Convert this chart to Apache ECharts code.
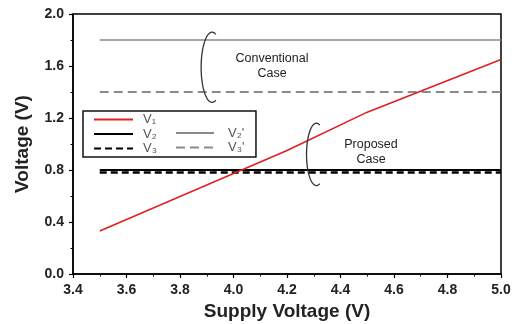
<!DOCTYPE html>
<html><head><meta charset="utf-8">
<script src="https://cdn.jsdelivr.net/npm/echarts@6/dist/echarts.min.js"></script>
<style>html,body{margin:0;padding:0;background:#fff}#c{width:518px;height:324px}</style>
</head><body><div id="c"></div>
<script>
// ---- data ----
var xTicks = [3.4, 5.0, 0.2];          // min, max, interval
var yTicks = [0.0, 2.0, 0.4];
var v1X = [3.5, 4.2, 4.5, 5.0];
var v1  = [0.33, 0.95, 1.245, 1.65];
var v2X = [3.5, 5.0];  var v2  = [0.80, 0.80];
var v3X = [3.5, 5.0];  var v3  = [0.78, 0.78];
var v2pX = [3.5, 5.0]; var v2p = [1.80, 1.80];
var v3pX = [3.5, 5.0]; var v3p = [1.40, 1.40];
var seriesNames = ['V\u2081', 'V\u2082', 'V\u2083', 'V\u2082\'', 'V\u2083\''];
var xName = 'Supply Voltage (V)';
var yName = 'Voltage (V)';
// annotations (data coordinates): bracket centre / half sizes, text centre
var annoConv = {text: 'Conventional\nCase', bx: 3.92, by: 1.59, rx: 0.041, ry: 0.27, tx: 4.144, ty: 1.6};
var annoProp = {text: 'Proposed\nCase', bx: 4.31, by: 0.92, rx: 0.037, ry: 0.24, tx: 4.514, ty: 0.94};

function pairs(xs, ys){ return xs.map(function(x,i){ return [x, ys[i]]; }); }

var chart = echarts.init(document.getElementById('c'), null, {renderer:'canvas'});
var FONT = '"Liberation Sans", Arial, "DejaVu Sans", sans-serif';
var axisCommon = {
  axisLine: {show: true, onZero: false, lineStyle: {color: '#000', width: 1.5}},
  axisTick: {show: true, inside: false, length: 4, lineStyle: {color: '#000', width: 1.2}},
  minorTick: {show: true, splitNumber: 2, length: 2.5, lineStyle: {color: '#000', width: 1}},
  splitLine: {show: false},
  axisLabel: {color: '#222', fontWeight: 'bold', fontSize: 14, fontFamily: FONT,
              formatter: function(v){ return (+v).toFixed(1); }},
  nameTextStyle: {color: '#222', fontWeight: 'bold', fontSize: 19, fontFamily: FONT},
  nameLocation: 'middle'
};
var legendText = {color: '#555', fontSize: 13, fontFamily: FONT, lineHeight: 12, padding: [0,0,0,5]};

chart.setOption({
  animation: false,
  backgroundColor: '#fff',
  grid: {left: 73, right: 17, top: 14, bottom: 50, containLabel: false, outerBoundsMode: 'none',
         show: true, borderColor: '#000', borderWidth: 1.5, backgroundColor: 'transparent'},
  xAxis: Object.assign({}, axisCommon, {type: 'value', min: xTicks[0], max: xTicks[1], interval: xTicks[2],
     name: xName, nameGap: 26, axisLabel: Object.assign({}, axisCommon.axisLabel, {margin: 9})}),
  yAxis: Object.assign({}, axisCommon, {type: 'value', min: yTicks[0], max: yTicks[1], interval: yTicks[2],
     name: yName, nameGap: 41, axisLabel: Object.assign({}, axisCommon.axisLabel, {margin: 9})}),
  legend: [
    {data: [seriesNames[0], seriesNames[1], seriesNames[2]], orient: 'vertical', left: 83, top: 111,
     itemWidth: 39, itemHeight: 12, itemGap: 1.5, selectedMode: false,
     padding: [2, 99, 2, 10], borderColor: '#111', borderWidth: 1.5, backgroundColor: '#fff',
     itemStyle: {opacity: 0}, textStyle: legendText},
    {data: [seriesNames[3], seriesNames[4]], orient: 'vertical', left: 175, top: 126.5,
     itemWidth: 38, itemHeight: 12, itemGap: 1.5, selectedMode: false, padding: 0,
     itemStyle: {opacity: 0},
     textStyle: Object.assign({}, legendText, {padding: [0,0,0,9]})}
  ],
  series: [
    {name: seriesNames[3], type: 'line', data: pairs(v2pX, v2p), symbol: 'none', lineStyle: {color: '#8a8a8a', width: 1.6}, itemStyle: {color: '#8a8a8a'}, z: 2},
    {name: seriesNames[4], type: 'line', data: pairs(v3pX, v3p), symbol: 'none', lineStyle: {color: '#8a8a8a', width: 2, type: [9,5]}, itemStyle: {color: '#8a8a8a'}, z: 2},
    {name: seriesNames[1], type: 'line', data: pairs(v2X, v2), symbol: 'none', lineStyle: {color: '#000', width: 1.8}, itemStyle: {color: '#000'}, z: 3},
    {name: seriesNames[2], type: 'line', data: pairs(v3X, v3), symbol: 'none', lineStyle: {color: '#000', width: 2.5, type: [7,4]}, itemStyle: {color: '#000'}, z: 3},
    {name: seriesNames[0], type: 'line', data: pairs(v1X, v1), symbol: 'none', lineStyle: {color: '#e02020', width: 1.6}, itemStyle: {color: '#e02020'}, z: 4}
  ]
});

function bracket(a){
  var c = chart.convertToPixel({gridIndex: 0}, [a.bx, a.by]);
  var e = chart.convertToPixel({gridIndex: 0}, [a.bx + a.rx, a.by + a.ry]);
  var rx = Math.abs(e[0] - c[0]), ry = Math.abs(c[1] - e[1]);
  var pts = [];
  var t0 = -Math.PI/2 + 0.35, t1 = -3*Math.PI/2 - 0.35;
  for (var i = 0; i <= 60; i++) {
    var t = t0 + (t1 - t0) * i / 60;
    pts.push([c[0] + rx*Math.cos(t), c[1] + ry*Math.sin(t)]);
  }
  var tp = chart.convertToPixel({gridIndex: 0}, [a.tx, a.ty]);
  return [
    {type: 'polyline', shape: {points: pts, smooth: 0}, style: {stroke: '#333', lineWidth: 1.3, fill: null}, z: 10},
    {type: 'text', x: tp[0], y: tp[1], style: {text: a.text, fill: '#222', font: '12.5px ' + FONT, align: 'center', verticalAlign: 'middle', lineHeight: 15}, z: 10}
  ];
}
chart.setOption({graphic: bracket(annoConv).concat(bracket(annoProp))});
</script></body></html>
